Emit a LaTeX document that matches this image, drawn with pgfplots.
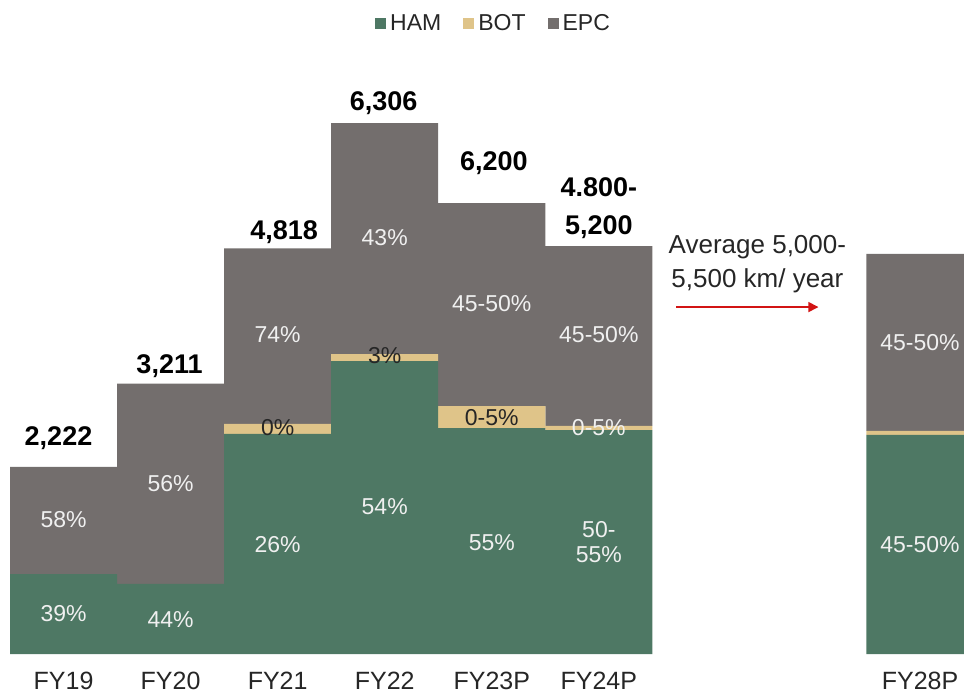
\documentclass[border=0pt]{standalone}
\usepackage{pgfplots}
\pgfplotsset{compat=1.18}
\usepackage{pgfplotstable}
\usetikzlibrary{arrows.meta}
\usepackage{fontspec}
\setmainfont{Liberation Sans}
\definecolor{ham}{RGB}{78,120,100}
\definecolor{bot}{RGB}{223,196,137}
\definecolor{epc}{RGB}{115,110,109}
\definecolor{lbl}{RGB}{240,240,240}
\definecolor{arr}{RGB}{210,20,20}
\pgfplotstableread{
x ham bot epc
0 950 0 1272
1 832 0 2379
2 2615 118 2085
3 3480 83 2743
4 2685 261 2412
5 2661 48 2138
8 2602 48 2103
}\data
\pgfplotsset{sq/.style={legend image code/.code={\fill[#1] (0pt,-2.75pt) rectangle (5.5pt,2.75pt);}}}
\begin{document}
\begin{tikzpicture}[
  wl/.style={text=lbl, font=\fontsize{11.5}{12.5}\selectfont},
  bl/.style={text=black!85, font=\fontsize{11.5}{12.5}\selectfont},
  tot/.style={text=black, font=\bfseries\fontsize{13.5}{19}\selectfont, align=center},
]
\begin{axis}[
  scale only axis, width=482pt, height=327pt,
  xmin=-0.5935, xmax=8.411, ymin=0, ymax=7770,
  ybar stacked, bar width=1,
  axis line style={draw=none}, ytick=\empty,
  xtick={0,1,2,3,4,5,8},
  xticklabels={FY19,FY20,FY21,FY22,FY23P,FY24P,FY28P},
  major tick length=0pt,
  xticklabel style={font=\fontsize{12.5}{14}\selectfont, anchor=base, yshift=-17.5pt, text=black!85},
  legend columns=3,
  legend style={draw=none, fill=none, at={(rel axis cs:0.513,1)}, anchor=north, yshift=-3pt,
    font=\fontsize{11.5}{13}\selectfont, text=black!85,
    /tikz/every even column/.append style={column sep=9pt}},
]
\addplot[fill=ham, draw=none, sq] table[x=x, y=ham]{\data};
\addplot[fill=bot, draw=none, sq] table[x=x, y=bot]{\data};
\addplot[fill=epc, draw=none, sq] table[x=x, y=epc]{\data};
\legend{HAM, BOT, EPC}
\coordinate (BL) at (rel axis cs:0,0);
\coordinate (TR) at (rel axis cs:1,1);
% totals
\coordinate (t1) at (axis cs:-0.047,2566);
\coordinate (t2) at (axis cs:0.99,3421);
\coordinate (t3) at (axis cs:2.06,5013);
\coordinate (t4) at (axis cs:2.99,6546);
\coordinate (t5) at (axis cs:4.02,5833);
\coordinate (t6) at (axis cs:5,5298);
% segment shares
\coordinate (a1) at (axis cs:0,1592);
\coordinate (a2) at (axis cs:0,475);
\coordinate (b1) at (axis cs:1,2020);
\coordinate (b2) at (axis cs:1,404);
\coordinate (c1) at (axis cs:2,3790);
\coordinate (c2) at (axis cs:2,2685);
\coordinate (c3) at (axis cs:2,1295);
\coordinate (d1) at (axis cs:3,4942);
\coordinate (d2) at (axis cs:3,3540);
\coordinate (d3) at (axis cs:3,1746);
\coordinate (e1) at (axis cs:4,4158);
\coordinate (e2) at (axis cs:4,2804);
\coordinate (e3) at (axis cs:4,1319);
\coordinate (f1) at (axis cs:5,3790);
\coordinate (f2) at (axis cs:5,2685);
\coordinate (f3) at (axis cs:5,1331);
\coordinate (g1) at (axis cs:8,3695);
\coordinate (g3) at (axis cs:8,1295);
\coordinate (an) at (axis cs:6.481,4633);
\coordinate (ar1) at (axis cs:5.724,4122);
\coordinate (ar2) at (axis cs:7.051,4122);
\end{axis}
\node[tot] at (t1) {2,222};
\node[tot] at (t2) {3,211};
\node[tot] at (t3) {4,818};
\node[tot] at (t4) {6,306};
\node[tot] at (t5) {6,200};
\node[tot] at (t6) {4.800-\\5,200};
\node[wl] at (a1) {58\%};
\node[wl] at (a2) {39\%};
\node[wl] at (b1) {56\%};
\node[wl] at (b2) {44\%};
\node[wl] at (c1) {74\%};
\node[bl] at (c2) {0\%};
\node[wl] at (c3) {26\%};
\node[wl] at (d1) {43\%};
\node[bl] at (d2) {3\%};
\node[wl] at (d3) {54\%};
\node[wl] at (e1) {45-50\%};
\node[bl] at (e2) {0-5\%};
\node[wl] at (e3) {55\%};
\node[wl] at (f1) {45-50\%};
\node[wl] at (f2) {0-5\%};
\node[wl, align=center] at (f3) {50-\\55\%};
\node[wl] at (g1) {45-50\%};
\node[wl] at (g3) {45-50\%};
\node[align=center, text=black!85, font=\fontsize{13}{17}\selectfont] at (an) {Average 5,000-\\5,500 km/ year};
\draw[arr, line width=0.75pt, -{Triangle[length=5pt,width=5pt]}] (ar1) -- (ar2);
\pgfresetboundingbox
\path ([yshift=-20pt]BL) rectangle (TR);
\end{tikzpicture}
\end{document}
